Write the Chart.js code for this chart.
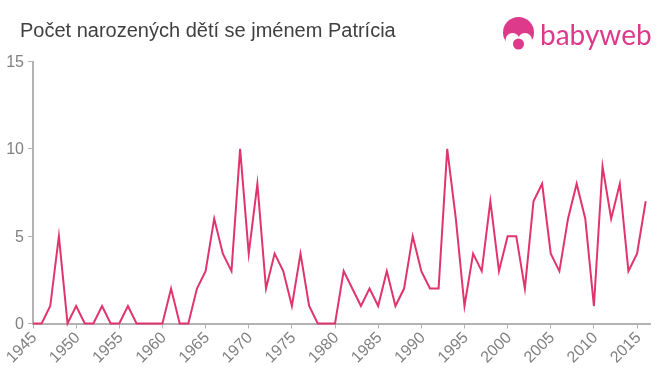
<!DOCTYPE html>
<html>
<head>
<meta charset="utf-8">
<style>
  html, body { margin: 0; padding: 0; background: #fff; }
  canvas { display: block; }
</style>
<script src="https://cdn.jsdelivr.net/npm/chart.js@4"></script>
</head>
<body>
<canvas id="chart" width="660" height="375"></canvas>
<script>
const years = [1945, 1946, 1947, 1948, 1949, 1950, 1951, 1952, 1953, 1954, 1955, 1956, 1957, 1958, 1959, 1960,
    1961, 1962, 1963, 1964, 1965, 1966, 1967, 1968, 1969, 1970, 1971, 1972, 1973, 1974, 1975, 1976, 1977, 1978, 1979, 1980,
    1981, 1982, 1983, 1984, 1985, 1986, 1987, 1988, 1989, 1990, 1991, 1992, 1993, 1994, 1995, 1996, 1997, 1998, 1999, 2000,
    2001, 2002, 2003, 2004, 2005, 2006, 2007, 2008, 2009, 2010, 2011, 2012, 2013, 2014, 2015, 2016];
const births = [0, 0, 1, 5, 0, 1, 0, 0, 1, 0, 0, 1, 0, 0, 0, 0,
    2, 0, 0, 2, 3, 6, 4, 3, 10, 4, 8, 2, 4, 3, 1, 4, 1, 0, 0, 0,
    3, 2, 1, 2, 1, 3, 1, 2, 5, 3, 2, 2, 10, 6, 1, 4, 3, 7, 3, 5,
    5, 2, 7, 8, 4, 3, 6, 8, 6, 1, 9, 6, 8, 3, 4, 7];
const xTicks = [1945, 1950, 1955, 1960, 1965, 1970, 1975, 1980, 1985, 1990, 1995, 2000, 2005, 2010, 2015];

const titleText = "Počet narozených dětí se jménem Patrícia";
const logoText = "babyweb";

const FONT = '"Liberation Sans", Arial, sans-serif';
const AXIS = "#b3b3b3";
const PINK = "#dd3a8c";

// title and logo sit outside the plot area
const header = {
    id: "header",
    afterDraw(chart) {
        const c = chart.ctx;
        const disc = (x, y, r, color) => {
            c.fillStyle = color;
            c.beginPath();
            c.arc(x, y, r, 0, Math.PI * 2);
            c.fill();
        };
        c.save();
        c.fillStyle = "#404040";
        c.font = "20px " + FONT;
        c.textAlign = "left";
        c.textBaseline = "alphabetic";
        c.fillText(titleText, 20, 37);

        // baby head: hair dome, two face lobes, dummy
        disc(518.5, 32.5, 15.5, PINK);
        disc(512.5, 40, 7, "#fff");
        disc(525, 40, 7, "#fff");
        c.fillStyle = "#fff";
        c.fillRect(503, 45, 31, 9);
        disc(518.5, 44, 5.5, PINK);

        c.fillStyle = PINK;
        c.font = "28px Lato, sans-serif";
        c.fillText(logoText, 540, 45);
        c.restore();
    },
};

new Chart(document.getElementById("chart"), {
    type: "line",
    data: {
        labels: years,
        datasets: [{
            data: years.map((y, i) => ({ x: y, y: births[i] })),
            borderColor: "#e0356c",
            borderWidth: 2,
            pointRadius: 0,
            tension: 0,
            clip: false,
        }],
    },
    plugins: [header],
    options: {
        responsive: false,
        animation: false,
        layout: { padding: { top: 61.5, right: 10, left: 0, bottom: 0 } },
        plugins: { legend: { display: false }, tooltip: { enabled: false } },
        scales: {
            x: {
                type: "linear",
                min: 1945,
                max: 2016.5,
                afterBuildTicks: (axis) => {
                    axis.ticks = xTicks.map((value) => ({ value }));
                },
                afterFit: (axis) => { axis.height = 51.5; },
                grid: { drawOnChartArea: false, drawTicks: true, tickLength: 5, tickColor: AXIS, tickWidth: 1 },
                border: { color: AXIS, width: 2 },
                ticks: {
                    autoSkip: false,
                    minRotation: 45,
                    maxRotation: 45,
                    padding: 0,
                    labelOffset: 1.5,
                    color: "#808080",
                    font: { family: FONT, size: 16 },
                    callback: (v) => String(v),
                },
            },
            y: {
                min: 0,
                max: 15,
                afterFit: (axis) => { axis.width = 33; },
                grid: { drawOnChartArea: false, drawTicks: true, tickLength: 5, tickColor: AXIS, tickWidth: 1 },
                border: { color: AXIS, width: 2 },
                ticks: {
                    stepSize: 5,
                    padding: 4,
                    labelOffset: 1,
                    color: "#808080",
                    font: { family: FONT, size: 16 },
                },
            },
        },
    },
});
</script>
</body>
</html>
